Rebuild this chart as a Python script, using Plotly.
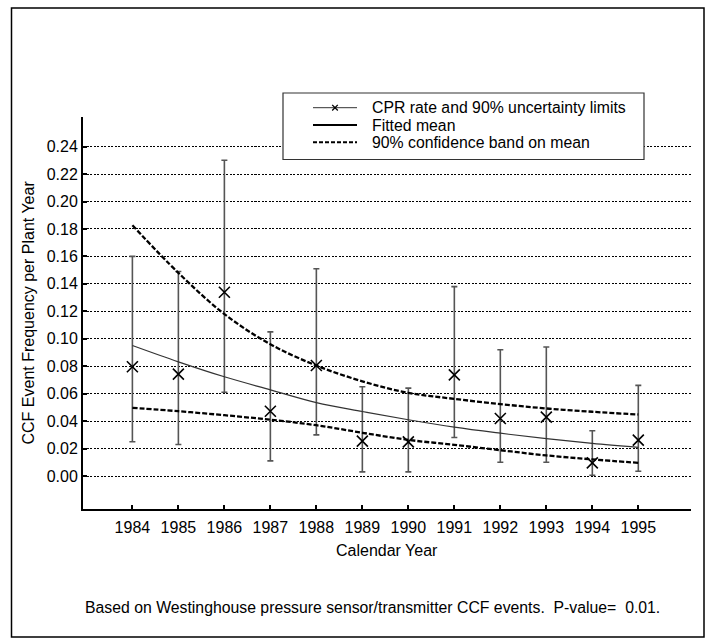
import plotly.graph_objects as go

# ---------------- data ----------------
years = [1984, 1985, 1986, 1987, 1988, 1989, 1990, 1991, 1992, 1993, 1994, 1995]
cpr_rate = [0.0796, 0.0742, 0.1339, 0.0472, 0.0805, 0.0254, 0.0249, 0.0737, 0.0419, 0.0429, 0.0096, 0.0261]
cpr_upper = [0.160, 0.149, 0.230, 0.105, 0.151, 0.065, 0.064, 0.138, 0.092, 0.094, 0.033, 0.066]
cpr_lower = [0.025, 0.023, 0.061, 0.011, 0.030, 0.003, 0.003, 0.028, 0.010, 0.010, 0.0005, 0.0035]
fitted_mean = [0.0951, 0.0832, 0.0723, 0.0628, 0.0535, 0.0470, 0.0410, 0.0356, 0.0312, 0.0272, 0.0237, 0.0208]
band_upper = [0.1827, 0.1480, 0.1180, 0.0960, 0.0805, 0.0690, 0.0606, 0.0562, 0.0524, 0.0492, 0.0468, 0.0448]
band_lower = [0.0497, 0.0472, 0.0443, 0.0410, 0.0370, 0.0315, 0.0263, 0.0227, 0.0188, 0.0150, 0.0121, 0.0096]
y_ticks = [0.00, 0.02, 0.04, 0.06, 0.08, 0.10, 0.12, 0.14, 0.16, 0.18, 0.20, 0.22, 0.24]
legend_labels = ["CPR rate and 90% uncertainty limits", "Fitted mean", "90% confidence band on mean"]
x_title = "Calendar Year"
y_title = "CCF Event Frequency per Plant Year"
footnote = "Based on Westinghouse pressure sensor/transmitter CCF events.  P-value=  0.01."

# ---------------- layout geometry ----------------
W, H = 712, 644
L, R, T, B = 83, 21, 117, 135
PW, PH = W - L - R, H - T - B
FONT = "Arial, Liberation Sans, Helvetica, sans-serif"
FS = 16


def px(x):
    return (x - L) / PW


def py(y):
    return (H - B - y) / PH


err_plus = [u - v for u, v in zip(cpr_upper, cpr_rate)]
err_minus = [v - l for v, l in zip(cpr_rate, cpr_lower)]

fig = go.Figure()

fig.add_trace(go.Scatter(
    x=years, y=cpr_rate, mode="markers", showlegend=False,
    marker=dict(symbol="x-thin", size=11, color="black", line=dict(width=1.6, color="black")),
    error_y=dict(type="data", symmetric=False, array=err_plus, arrayminus=err_minus,
                 color="#555555", thickness=1.6, width=3),
))
fig.add_trace(go.Scatter(
    x=years, y=fitted_mean, mode="lines", showlegend=False, line_shape="spline",
    line=dict(color="#333333", width=1.2),
))
fig.add_trace(go.Scatter(
    x=years, y=band_upper, mode="lines", showlegend=False, line_shape="spline",
    line=dict(color="black", width=2.3, dash="5px,2px"),
))
fig.add_trace(go.Scatter(
    x=years, y=band_lower, mode="lines", showlegend=False, line_shape="spline",
    line=dict(color="black", width=2.3, dash="5px,2px"),
))

shapes = []
annotations = []

# outer frame
shapes.append(dict(type="rect", xref="paper", yref="paper",
                   x0=px(11.5), x1=px(704), y0=py(637), y1=py(8),
                   line=dict(color="black", width=1.5), fillcolor="rgba(0,0,0,0)", layer="above"))

# legend box
shapes.append(dict(type="rect", xref="paper", yref="paper",
                   x0=px(283), x1=px(644), y0=py(159.5), y1=py(93),
                   line=dict(color="#333333", width=1.2), fillcolor="white", layer="above"))
rows = [107.7, 125.0, 142.3]
sx0, sx1, tx = 313, 357, 370
# row 1: thin line with x marker
shapes.append(dict(type="line", xref="paper", yref="paper", x0=px(sx0), x1=px(sx1),
                   y0=py(rows[0]), y1=py(rows[0]), line=dict(color="#333333", width=1), layer="above"))
cx, cy, d = (sx0 + sx1) / 2, rows[0], 2.8
shapes.append(dict(type="line", xref="paper", yref="paper", x0=px(cx - d), x1=px(cx + d),
                   y0=py(cy - d), y1=py(cy + d), line=dict(color="black", width=1.3), layer="above"))
shapes.append(dict(type="line", xref="paper", yref="paper", x0=px(cx - d), x1=px(cx + d),
                   y0=py(cy + d), y1=py(cy - d), line=dict(color="black", width=1.3), layer="above"))
# row 2: solid
shapes.append(dict(type="line", xref="paper", yref="paper", x0=px(sx0), x1=px(sx1),
                   y0=py(rows[1]), y1=py(rows[1]), line=dict(color="black", width=2), layer="above"))
# row 3: dashed
shapes.append(dict(type="line", xref="paper", yref="paper", x0=px(sx0), x1=px(sx1),
                   y0=py(rows[2]), y1=py(rows[2]), line=dict(color="black", width=2, dash="4px,2px"),
                   layer="above"))
for lab, ry in zip(legend_labels, rows):
    annotations.append(dict(text=lab, xref="paper", yref="paper", x=px(tx), y=py(ry),
                            xanchor="left", yanchor="middle", showarrow=False,
                            font=dict(family=FONT, size=15.8, color="black")))

# titles and footnote
annotations.append(dict(text=x_title, xref="paper", yref="paper", x=px(387), y=py(550),
                        xanchor="center", yanchor="middle", showarrow=False,
                        font=dict(family=FONT, size=FS, color="black")))
annotations.append(dict(text=y_title, xref="paper", yref="paper", x=px(27.5), y=py(313),
                        xanchor="center", yanchor="middle", showarrow=False, textangle=-90,
                        font=dict(family=FONT, size=FS, color="black")))
annotations.append(dict(text=footnote.replace(" ", "\u00a0"), xref="paper", yref="paper",
                        x=px(83), y=py(607), xanchor="left", yanchor="middle", showarrow=False,
                        font=dict(family=FONT, size=15.8, color="black")))

x0 = 1984 - (132.4 - L) / 46.0
x1 = 1995 + (W - R - 638.3) / 46.0
ppu = 1372.5
y0 = -(H - B - 476.0) / ppu
y1 = (476.0 - T) / ppu

fig.update_layout(
    width=W, height=H,
    margin=dict(l=L, r=R, t=T, b=B, pad=0),
    paper_bgcolor="white", plot_bgcolor="white",
    font=dict(family=FONT, size=FS, color="black"),
    showlegend=False,
    shapes=shapes, annotations=annotations,
    xaxis=dict(range=[x0, x1], tickmode="array", tickvals=years,
               ticktext=[str(y) for y in years], showgrid=False, zeroline=False,
               showline=True, linecolor="black", linewidth=2,
               ticks="inside", ticklen=4, tickwidth=1.5, tickcolor="black",
               ticklabelstandoff=3,
               tickfont=dict(family=FONT, size=FS, color="black")),
    yaxis=dict(range=[y0, y1], tickmode="array", tickvals=y_ticks,
               ticktext=[f"{v:.2f}" for v in y_ticks], showgrid=True, gridcolor="black",
               gridwidth=1, griddash="2px,1.5px", zeroline=False,
               showline=True, linecolor="black", linewidth=2,
               ticks="inside", ticklen=4, tickwidth=1.5, tickcolor="black",
               tickfont=dict(family=FONT, size=FS, color="black")),
)

fig.write_html("out.html")
